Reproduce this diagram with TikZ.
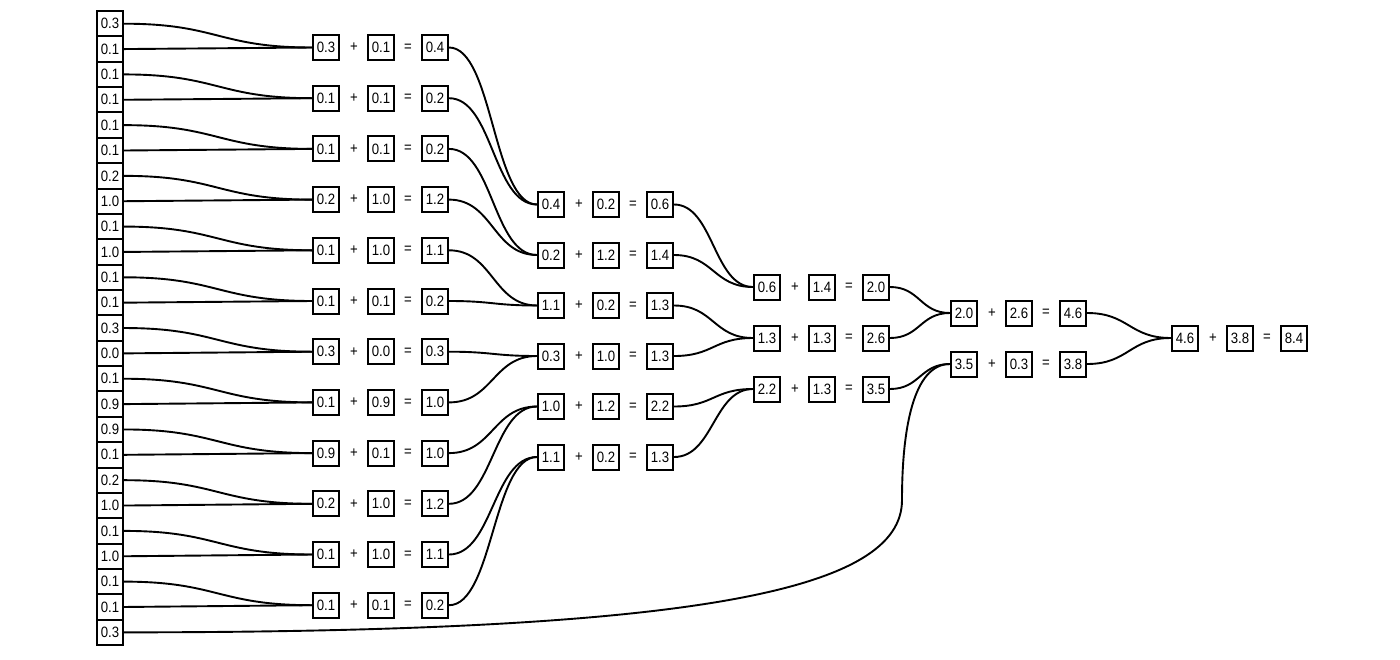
\documentclass[tikz,border=0pt]{standalone}
\usepackage{fontspec}
\usepackage{graphicx}
\setmainfont{Liberation Sans}
\usetikzlibrary{calc}
\tikzset{
  box/.style={draw, line width=2pt, minimum width=26pt, minimum height=25pt, inner sep=0pt, font=\fontsize{15}{15}\selectfont},
  lbox/.style={box, minimum width=26pt, minimum height=25.36pt},
  op/.style={inner sep=0pt, font=\fontsize{15}{15}\selectfont},
  conn/.style={line width=1.9pt, line cap=round, line join=round},
}
\newcommand\sx[1]{\scalebox{0.88}[1]{#1}}
\newcommand\mylink[2]{\draw[conn] let \p1=(#1.east), \p2=(#2.west) in (\p1) .. controls ({0.5*\x1+0.5*\x2},\y1) and ({0.5*\x1+0.5*\x2},\y2) .. (\p2);}
\newcommand\sumrow[6]{%
  \node[box] (#1a) at (#2,#3) {\sx{#4}};
  \node[op] (#1p) at (#2+28,#3) {\sx{+}};
  \node[box] (#1b) at (#2+55,#3) {\sx{#5}};
  \node[op] (#1q) at (#2+82,#3) {\sx{=}};
  \node[box] (#1c) at (#2+109,#3) {\sx{#6}};
}
\begin{document}
\begin{tikzpicture}[x=1pt,y=-1pt]
\useasboundingbox[fill=white] (0,0) rectangle (1400,659);
% left column
\foreach \v [count=\i from 0] in {0.3,0.1,0.1,0.1,0.1,0.1,0.2,1.0,0.1,1.0,0.1,0.1,0.3,0.0,0.1,0.9,0.9,0.1,0.2,1.0,0.1,1.0,0.1,0.1,0.3}
  \node[lbox] (L\i) at (110,{23.7+25.36*\i}) {\sx{\v}};
% column A
\foreach \a/\b/\c [count=\j from 0] in {0.3/0.1/0.4,0.1/0.1/0.2,0.1/0.1/0.2,0.2/1.0/1.2,0.1/1.0/1.1,0.1/0.1/0.2,0.3/0.0/0.3,0.1/0.9/1.0,0.9/0.1/1.0,0.2/1.0/1.2,0.1/1.0/1.1,0.1/0.1/0.2}
  {\pgfmathsetmacro\yy{47.5+50.7*\j}
   \sumrow{A\j}{326}{\yy}{\a}{\b}{\c}}
% column B
\foreach \a/\b/\c [count=\j from 0] in {0.4/0.2/0.6,0.2/1.2/1.4,1.1/0.2/1.3,0.3/1.0/1.3,1.0/1.2/2.2,1.1/0.2/1.3}
  {\pgfmathsetmacro\yy{204.5+50.5*\j}
   \sumrow{B\j}{551}{\yy}{\a}{\b}{\c}}
% column C
\foreach \a/\b/\c [count=\j from 0] in {0.6/1.4/2.0,1.3/1.3/2.6,2.2/1.3/3.5}
  {\pgfmathsetmacro\yy{287+51*\j}
   \sumrow{C\j}{767}{\yy}{\a}{\b}{\c}}
% column D
\sumrow{D0}{964}{313}{2.0}{2.6}{4.6}
\sumrow{D1}{964}{364}{3.5}{0.3}{3.8}
% column E
\sumrow{E0}{1185}{338}{4.6}{3.8}{8.4}
% connectors L -> A
\foreach \j in {0,...,11}{
  \pgfmathtruncatemacro\ka{2*\j}
  \pgfmathtruncatemacro\kb{2*\j+1}
  \mylink{L\ka}{A\j a}
  \mylink{L\kb}{A\j a}
}
% A -> B
\foreach \j in {0,...,5}{
  \pgfmathtruncatemacro\ka{2*\j}
  \pgfmathtruncatemacro\kb{2*\j+1}
  \mylink{A\ka c}{B\j a}
  \mylink{A\kb c}{B\j a}
}
% B -> C
\foreach \j in {0,...,2}{
  \pgfmathtruncatemacro\ka{2*\j}
  \pgfmathtruncatemacro\kb{2*\j+1}
  \mylink{B\ka c}{C\j a}
  \mylink{B\kb c}{C\j a}
}
% C -> D
\mylink{C0c}{D0a}
\mylink{C1c}{D0a}
\mylink{C2c}{D1a}
% D -> E
\mylink{D0c}{E0a}
\mylink{D1c}{E0a}
% long connector
\coordinate (bend) at (902,500);
\draw[conn] (L24.east) .. controls +(577,0) and +(0,90) .. (bend)
  .. controls +(0,-70) and +(-37,0) .. (D1a.west);
\end{tikzpicture}
\end{document}
